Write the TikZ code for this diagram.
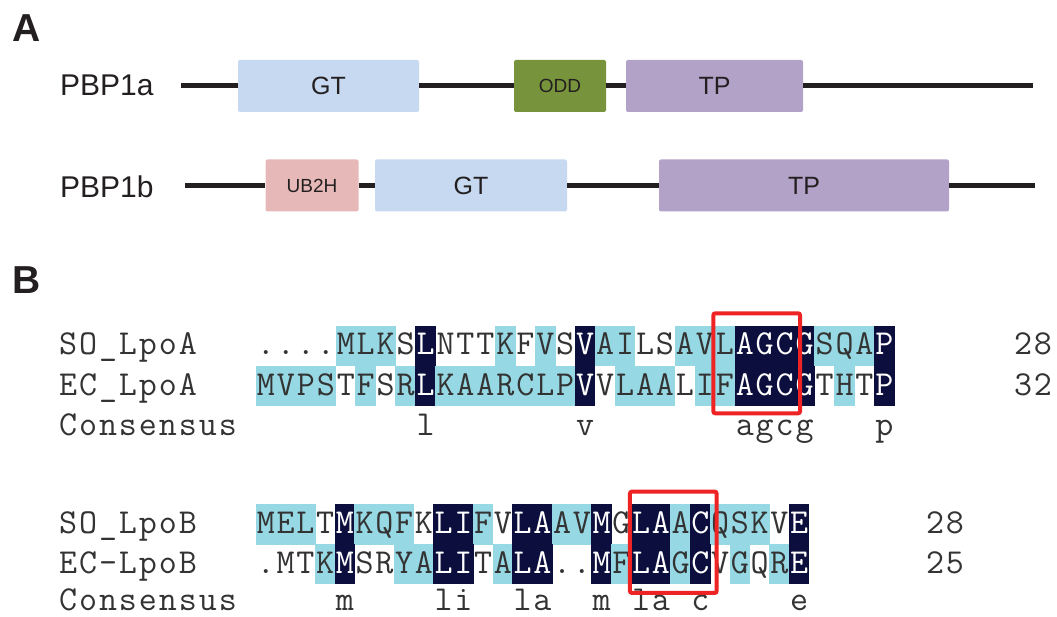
\documentclass[tikz,border=0pt]{standalone}
\usepackage{fontspec}
\setmainfont{Liberation Sans}
\newcommand\monof{\ttfamily}
\definecolor{gtblue}{HTML}{C6D9F0}
\definecolor{oddgreen}{HTML}{77933C}
\definecolor{tppurple}{HTML}{B3A2C7}
\definecolor{ubpink}{HTML}{E6B9B8}
\definecolor{ink}{HTML}{231F20}
\definecolor{seqtxt}{HTML}{333333}
\definecolor{lightcell}{HTML}{96D8E4}
\definecolor{darkcell}{HTML}{0C0F3D}
\definecolor{boxred}{HTML}{EE2424}
% spread the letters of a label over columns of 19.95pt
\def\spread#1{\ifx#1\relax\else\makebox[19.95pt]{#1}\expandafter\spread\fi}
% #1 name prefix, #2 x0, #3 column width, #4 y centre, #5 list char/code
\newcommand\alrow[5]{%
  \foreach \ch/\bg [count=\i from 0] in {#5} {%
    \if\bg D%
      \node[cellD, minimum width=#3+0.6] (#1-\i) at ({#2+#3*(\i+0.5)},#4) {\ch};%
    \else\if\bg L%
      \node[cellL, minimum width=#3+0.6] (#1-\i) at ({#2+#3*(\i+0.5)},#4) {\ch};%
    \else
      \node[cellW, minimum width=#3] (#1-\i) at ({#2+#3*(\i+0.5)},#4) {\ch};%
    \fi\fi
  }}
% consensus: #1 prefix, #2 x0, #3 width, #4 baseline y, #5 list char/column
\newcommand\consrow[5]{%
  \foreach \ch/\c in {#5} {%
    \node[consch] (#1-\c) at ({#2+#3*(\c+0.5)},#4) {\ch};%
  }}
\begin{document}
\begin{tikzpicture}[x=1pt,y=-1pt,
  panel/.style={anchor=base west, inner sep=0, font=\bfseries\fontsize{39}{44}\selectfont, text=ink},
  protlabel/.style={anchor=base west, inner sep=0, font=\fontsize{30}{36}\selectfont, text=ink},
  dom/.style={rectangle, rounded corners=2pt, inner sep=0, minimum height=52, text=ink, font=\fontsize{25}{30}\selectfont},
  smalldom/.style={dom, font=\fontsize{19}{24}\selectfont},
  backbone/.style={draw=ink, line width=5pt},
  cellbase/.style={rectangle, inner sep=0, minimum height=40.5, text height=24pt, text depth=6pt, font=\monof\fontsize{35}{40}\selectfont},
  cellL/.style={cellbase, fill=lightcell, text=seqtxt},
  cellD/.style={cellbase, fill=darkcell, text=white},
  cellW/.style={cellbase, text=seqtxt},
  consch/.style={anchor=base, inner sep=0, text=seqtxt, font=\monof\fontsize{35}{40}\selectfont},
  seqlabel/.style={anchor=base west, inner sep=0, text=seqtxt, font=\monof\fontsize{35}{40}\selectfont},
  seqnum/.style={anchor=base, inner sep=0, text=seqtxt, font=\monof\fontsize{35}{40}\selectfont},
  redbox/.style={draw=boxred, line width=4pt, rounded corners=2pt, inner sep=0}]
\useasboundingbox (0,0) rectangle (1057,617);
\fill[white] (0,0) rectangle (1057,617);

% ---------- Panel A ----------
\node[panel] (pA) at (12,41.7) {A};
\node[protlabel] (l1a) at (60,96) {PBP1a};
\node[protlabel] (l1b) at (60,198) {PBP1b};

\coordinate (a-start) at (181,86);
\coordinate (a-end) at (1033,86);
\node[dom, fill=gtblue, minimum width=181] (a-gt) at (328.5,86) {GT};
\node[smalldom, fill=oddgreen, minimum width=92] (a-odd) at (560,86) {ODD};
\node[dom, fill=tppurple, minimum width=177] (a-tp) at (714.5,86) {TP};
\draw[backbone] (a-start) -- (a-gt.west);
\draw[backbone] (a-gt.east) -- (a-odd.west);
\draw[backbone] (a-odd.east) -- (a-tp.west);
\draw[backbone] (a-tp.east) -- (a-end);

\coordinate (b-start) at (185,185.5);
\coordinate (b-end) at (1035,185.5);
\node[smalldom, fill=ubpink, minimum width=93] (b-ub) at (312,185.5) {UB2H};
\node[dom, fill=gtblue, minimum width=192] (b-gt) at (471,185.5) {GT};
\node[dom, fill=tppurple, minimum width=290] (b-tp) at (804,185.5) {TP};
\draw[backbone] (b-start) -- (b-ub.west);
\draw[backbone] (b-ub.east) -- (b-gt.west);
\draw[backbone] (b-gt.east) -- (b-tp.west);
\draw[backbone] (b-tp.east) -- (b-end);

% ---------- Panel B ----------
\node[panel] (pB) at (12,293.3) {B};

% LpoA alignment
\node[seqlabel] (soa) at (58,355) {\spread SO\_LpoA\relax};
\node[seqlabel] (eca) at (58,395) {\spread EC\_LpoA\relax};
\node[seqlabel] (cona) at (58,435) {\spread Consensus\relax};
\alrow{ra}{256}{19.95}{346}{./W,./W,./W,./W,M/L,L/L,K/L,S/W,L/D,N/W,T/W,T/W,K/L,F/W,V/L,S/W,V/D,A/L,I/L,L/W,S/W,A/L,V/L,L/L,A/D,G/D,C/D,G/D,S/L,Q/L,A/L,P/D}
\alrow{rb}{256}{19.95}{386}{M/L,V/L,P/L,S/L,T/W,F/L,S/W,R/L,L/D,K/L,A/L,A/L,R/L,C/L,L/L,P/L,V/D,V/W,L/L,A/L,A/L,L/W,I/L,F/L,A/D,G/D,C/D,G/D,T/W,H/L,T/W,P/D}
\consrow{rc}{256}{19.95}{435}{l/8,v/16,a/24,g/25,c/26,g/27,p/31}
\node[seqnum] (na1) at (1033,355) {\spread 28\relax};
\node[seqnum] (na2) at (1033,395) {\spread 32\relax};
\node[redbox, minimum width=86.7, minimum height=100] (boxA) at (756.7,363.3) {};

% LpoB alignment
\node[seqlabel] (sob) at (58,533.5) {\spread SO\_LpoB\relax};
\node[seqlabel] (ecb) at (58,573) {\spread EC-LpoB\relax};
\node[seqlabel] (conb) at (58,610) {\spread Consensus\relax};
\alrow{sa}{256}{19.75}{524.5}{M/L,E/L,L/L,T/W,M/D,K/L,Q/L,F/L,K/W,L/D,I/D,F/L,V/W,L/D,A/D,A/L,V/L,M/D,G/W,L/D,A/D,A/L,C/D,Q/L,S/L,K/L,V/W,E/D}
\alrow{sb}{256}{19.75}{564}{./W,M/W,T/W,K/L,M/D,S/W,R/W,Y/L,A/L,L/D,I/D,T/W,A/L,L/D,A/D,./W,./W,M/D,F/L,L/D,A/D,G/L,C/D,V/W,G/L,Q/W,R/L,E/D}
\consrow{sc}{256}{19.75}{610}{m/4,l/9,i/10,l/13,a/14,m/17,l/19,a/20,c/22,e/27}
\node[seqnum] (nb1) at (945,533.5) {\spread 28\relax};
\node[seqnum] (nb2) at (945,573) {\spread 25\relax};
\node[redbox, minimum width=86.7, minimum height=101.3] (boxB) at (673.3,542.3) {};
\end{tikzpicture}
\end{document}
